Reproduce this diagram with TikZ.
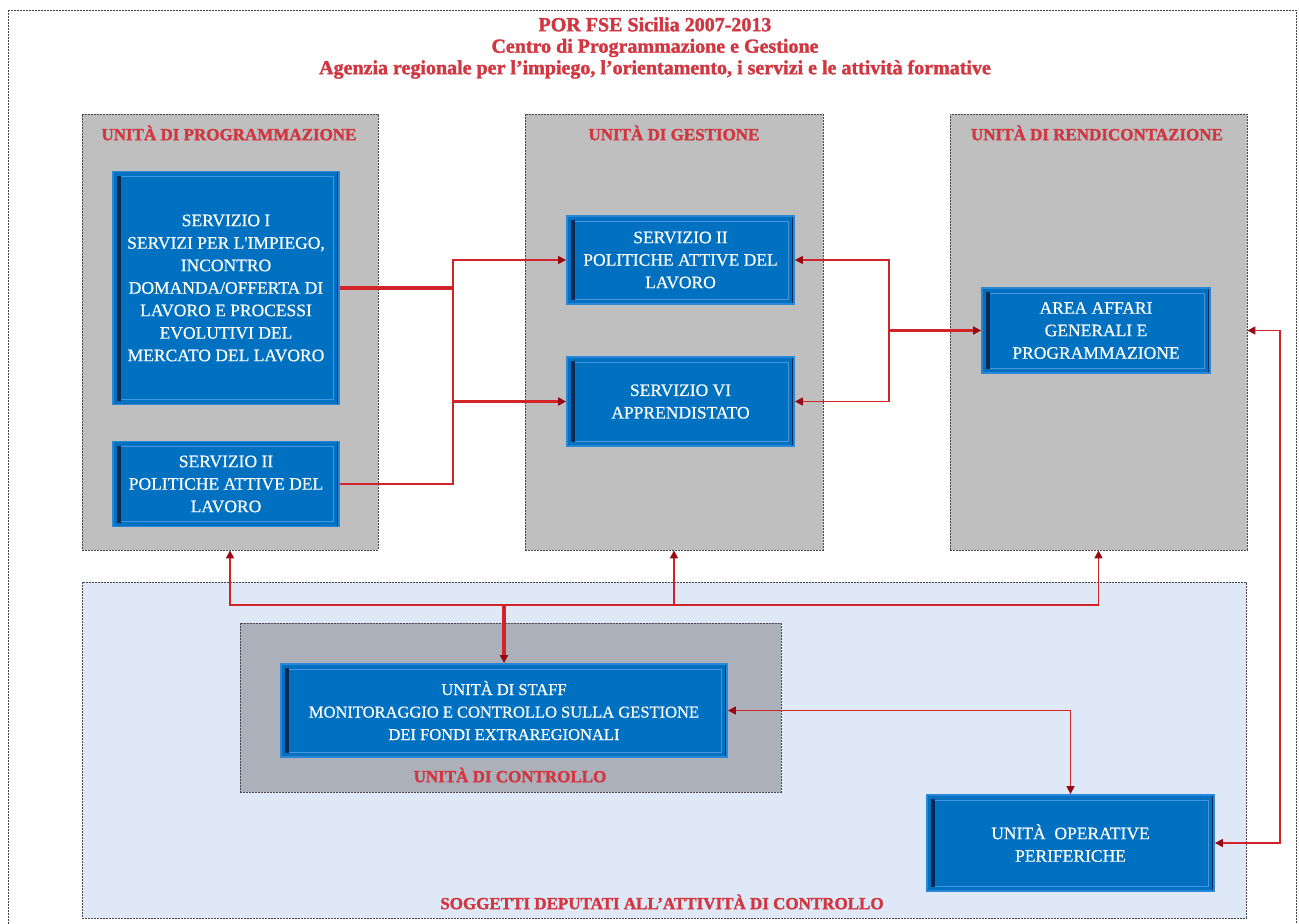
\documentclass[tikz,border=0pt]{standalone}
\usepackage{fontspec}
\setmainfont{Liberation Serif}
\newfontfamily\heavyfont[FakeBold=1.6]{Liberation Serif Bold}
\newfontfamily\boxfont[FakeBold=0.5]{Liberation Serif}
\usetikzlibrary{arrows.meta,calc}
\definecolor{boxblue}{RGB}{0,112,192}
\definecolor{boxedge}{RGB}{40,135,215}
\definecolor{bevdark}{RGB}{10,40,80}
\definecolor{bevlight}{RGB}{70,150,225}
\definecolor{panelgrey}{RGB}{191,191,191}
\definecolor{ctrlgrey}{RGB}{172,176,186}
\definecolor{lightblue}{RGB}{223,232,246}
\definecolor{dashgrey}{RGB}{70,70,75}
\definecolor{titlered}{RGB}{208,55,65}
\definecolor{linered}{RGB}{210,35,40}
\definecolor{tipred}{RGB}{150,10,20}
\tikzset{
  >={Triangle[length=8pt,width=8pt,color=tipred]},
  panel/.style={draw=dashgrey, dash pattern=on 2pt off 1pt, line width=0.8pt, fill=panelgrey, minimum width=#1, inner sep=0pt},
  bluebox/.style={fill=boxblue, draw=boxedge, line width=1.8pt, inner sep=0pt, align=center, text=white,
    font=\boxfont\fontsize{17.5}{22.5}\selectfont,
    path picture={
      \fill[bevdark] ([shift={(4pt,-4pt)}]path picture bounding box.north west) rectangle ([shift={(8pt,4pt)}]path picture bounding box.south west);
      \fill[bevdark] ([shift={(-2pt,0pt)}]path picture bounding box.north east) rectangle (path picture bounding box.south east);
      \draw[bevlight, line width=1pt] ([shift={(8pt,-5pt)}]path picture bounding box.north west) -- ([shift={(-6pt,-5pt)}]path picture bounding box.north east) -- ([shift={(-6pt,5pt)}]path picture bounding box.south east) -- ([shift={(8pt,5pt)}]path picture bounding box.south west);
    }},
  paneltitle/.style={text=titlered, font=\heavyfont\fontsize{17}{20}\selectfont, inner sep=0pt},
  conn/.style={draw=linered, line width=1.5pt},
  connb/.style={draw=linered, line width=3.2pt},
}
\begin{document}
\begin{tikzpicture}[x=1pt,y=-1pt]
\useasboundingbox (0,0) rectangle (1299,924);
\clip (0,0) rectangle (1299,924);
\fill[white] (0,0) rectangle (1299,924);
% outer frame
\draw[draw=dashgrey, dash pattern=on 2pt off 1pt, line width=0.8pt] (8,10) rectangle (1296,940);

% title
\node (title) [text=titlered, font=\heavyfont\fontsize{20}{21.5}\selectfont, align=center, inner sep=0pt] at (655,48)
  {POR FSE Sicilia 2007-2013\\Centro di Programmazione e Gestione\\Agenzia regionale per l’impiego, l’orientamento, i servizi e le attività formative};

% panels
\node (sogg) [panel=1164pt, fill=lightblue, minimum height=336pt] at (664,750) {};
\node (ctrl) [panel=541pt, fill=ctrlgrey, minimum height=169pt] at (510.5,707.5) {};
\node (prog) [panel=296pt, minimum height=436pt] at (230,332) {};
\node (gest) [panel=298pt, minimum height=436pt] at (674,332) {};
\node (rend) [panel=297pt, minimum height=436pt] at (1098.5,332) {};

\node (lprog) [paneltitle] at (229,133) {UNITÀ DI PROGRAMMAZIONE};
\node (lgest) [paneltitle] at (674,133) {UNITÀ DI GESTIONE};
\node (lrend) [paneltitle] at (1097,133) {UNITÀ DI RENDICONTAZIONE};
\node (lctrl) [paneltitle] at (510,775) {UNITÀ DI CONTROLLO};
\node (lsogg) [paneltitle] at (662,902) {SOGGETTI DEPUTATI ALL’ATTIVITÀ DI CONTROLLO};

% blue boxes
\node (s1) [bluebox, minimum width=226pt, minimum height=233pt] at (226,288)
  {SERVIZIO I\\SERVIZI PER L'IMPIEGO,\\INCONTRO\\DOMANDA/OFFERTA DI\\LAVORO E PROCESSI\\EVOLUTIVI DEL\\MERCATO DEL LAVORO};
\node (s2l) [bluebox, minimum width=226pt, minimum height=85pt] at (226,484)
  {SERVIZIO II\\POLITICHE ATTIVE DEL\\LAVORO};
\node (s2g) [bluebox, minimum width=227pt, minimum height=88pt] at (680.5,260)
  {SERVIZIO II\\POLITICHE ATTIVE DEL\\LAVORO};
\node (s6) [bluebox, minimum width=227pt, minimum height=89pt] at (680.5,401.5)
  {SERVIZIO VI\\APPRENDISTATO};
\node (area) [bluebox, minimum width=228pt, minimum height=85pt] at (1096,330.5)
  {AREA AFFARI\\GENERALI E\\PROGRAMMAZIONE};
\node (staff) [bluebox, minimum width=446pt, minimum height=93pt, font=\boxfont\fontsize{16.5}{22.5}\selectfont] at (504,710.5)
  {UNITÀ DI STAFF\\MONITORAGGIO E CONTROLLO SULLA GESTIONE\\DEI FONDI EXTRAREGIONALI};
\node (oper) [bluebox, minimum width=287pt, minimum height=96pt] at (1070.5,843)
  {UNITÀ\ \ OPERATIVE\\PERIFERICHE};

% connectors left
\coordinate (jx) at (453,0);
\draw[connb] (s1.east) -- (jx |- s1.east);
\draw[conn,->] (s2l.east) -| (jx |- s2g.west) -- (s2g.west);
\draw[connb,->] (jx |- s6.west) -- (s6.west);

% connectors right of gestione
\coordinate (kx) at (889,0);
\draw[conn,<->] (s2g.east) -- (kx |- s2g.east) -- (kx |- s6.east) -- (s6.east);
\draw[connb,->] (kx |- area.west) -- (area.west);

% long right connector
\coordinate (lx) at (1280,0);
\draw[conn,<->] (rend.east |- area.east) -- (lx |- area.east) -- (lx |- oper.east) -- (oper.east);

% bottom tree
\path (staff.north) ++(0,-58) coordinate (bt);
\draw[conn,->] (bt) -| (prog.south);
\draw[conn,->] (bt) -| (gest.south);
\draw[conn,->] (bt) -| (rend.south);
\draw[connb,->] (bt) -- (staff.north);

% staff <-> operative
\draw[conn,<->] (staff.east) -| (oper.north);
\end{tikzpicture}
\end{document}
